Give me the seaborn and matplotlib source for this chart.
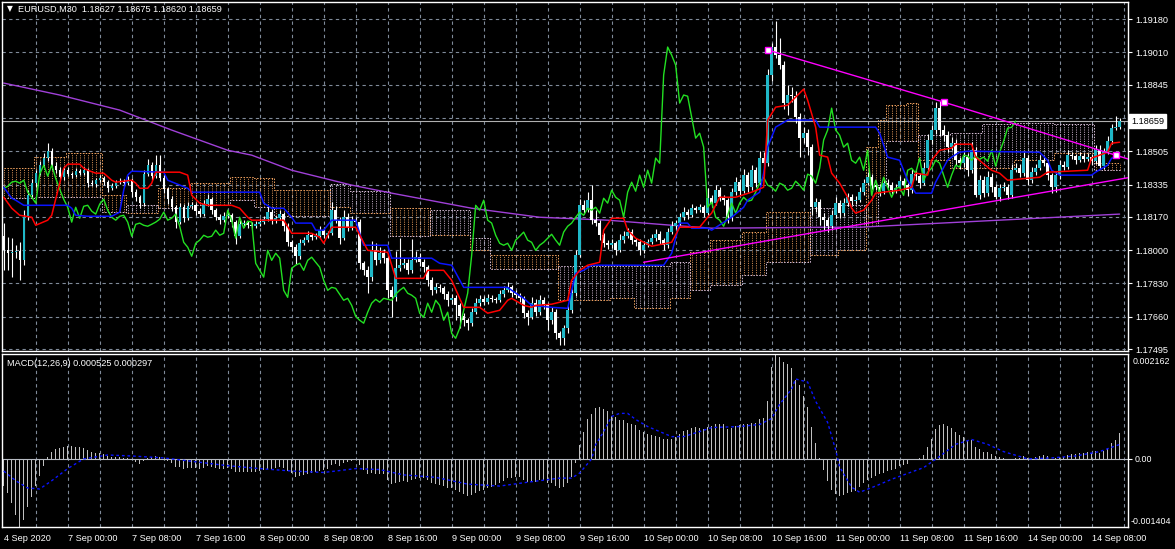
import numpy as np
import pandas as pd
import matplotlib
matplotlib.use("Agg")
import matplotlib.pyplot as plt
import matplotlib.transforms as mtransforms
import seaborn as sns

sns.set_style("dark")
plt.rcParams["font.family"] = ["Liberation Sans", "DejaVu Sans"]

# ---- EURUSD M30 candles (close, wicks in points) ----
first_open = 1.18071
closes = [
    1.17999, 1.17984, 1.17989, 1.17994, 1.17948, 1.18168, 1.18280, 1.18342, 1.18393, 1.18434,
    1.18470, 1.18505, 1.18429, 1.18408, 1.18372, 1.18408, 1.18388, 1.18383, 1.18403, 1.18393,
    1.18408, 1.18342, 1.18337, 1.18357, 1.18367, 1.18347, 1.18316, 1.18326, 1.18347, 1.18352,
    1.18342, 1.18357, 1.18296, 1.18270, 1.18240, 1.18388, 1.18434, 1.18378, 1.18434, 1.18367,
    1.18311, 1.18260, 1.18219, 1.18143, 1.18219, 1.18163, 1.18224, 1.18229, 1.18199, 1.18184,
    1.18235, 1.18260, 1.18204, 1.18168, 1.18153, 1.18173, 1.18178, 1.18143, 1.18071, 1.18132,
    1.18138, 1.18127, 1.18122, 1.18132, 1.18143, 1.18158, 1.18194, 1.18153, 1.18163, 1.18184,
    1.18122, 1.18040, 1.18015, 1.17969, 1.18035, 1.18051, 1.18076, 1.18066, 1.18071, 1.18102,
    1.18076, 1.18086, 1.18204, 1.18153, 1.18061, 1.18168, 1.18112, 1.18148, 1.18143, 1.17933,
    1.17897, 1.17862, 1.17999, 1.17948, 1.17984, 1.17959, 1.17795, 1.17759, 1.17908, 1.17923,
    1.17933, 1.17897, 1.17948, 1.17964, 1.17938, 1.17913, 1.17846, 1.17795, 1.17810, 1.17805,
    1.17775, 1.17744, 1.17754, 1.17718, 1.17662, 1.17642, 1.17627, 1.17683, 1.17729, 1.17749,
    1.17734, 1.17754, 1.17749, 1.17744, 1.17775, 1.17795, 1.17810, 1.17780, 1.17770, 1.17754,
    1.17678, 1.17657, 1.17729, 1.17683, 1.17744, 1.17718, 1.17642, 1.17683, 1.17575, 1.17550,
    1.17601, 1.17693, 1.17780, 1.17974, 1.18229, 1.18204, 1.18255, 1.18153, 1.18138, 1.18076,
    1.18035, 1.18025, 1.18035, 1.17999, 1.18051, 1.18071, 1.18092, 1.18051, 1.18040, 1.17999,
    1.18025, 1.18040, 1.18061, 1.18081, 1.18051, 1.18025, 1.18092, 1.18122, 1.18138, 1.18168,
    1.18194, 1.18178, 1.18214, 1.18204, 1.18219, 1.18189, 1.18265, 1.18240, 1.18306, 1.18270,
    1.18255, 1.18168, 1.18296, 1.18347, 1.18301, 1.18383, 1.18321, 1.18408, 1.18342, 1.18470,
    1.18444, 1.18894, 1.19037, 1.18996, 1.18945, 1.18751, 1.18792, 1.18786, 1.18679, 1.18572,
    1.18597, 1.18526, 1.18219, 1.18245, 1.18168, 1.18153, 1.18122, 1.18178, 1.18240, 1.18189,
    1.18240, 1.18270, 1.18250, 1.18255, 1.18296, 1.18342, 1.18372, 1.18332, 1.18321, 1.18301,
    1.18342, 1.18332, 1.18306, 1.18316, 1.18352, 1.18332, 1.18306, 1.18388, 1.18378, 1.18342,
    1.18418, 1.18562, 1.18613, 1.18725, 1.18613, 1.18587, 1.18526, 1.18546, 1.18459, 1.18444,
    1.18475, 1.18408, 1.18510, 1.18280, 1.18357, 1.18291, 1.18372, 1.18321, 1.18270, 1.18316,
    1.18321, 1.18280, 1.18408, 1.18418, 1.18393, 1.18470, 1.18357, 1.18398, 1.18418, 1.18459,
    1.18444, 1.18383, 1.18321, 1.18383, 1.18434, 1.18424, 1.18485, 1.18480, 1.18459, 1.18480,
    1.18464, 1.18475, 1.18454, 1.18510, 1.18429, 1.18500, 1.18556, 1.18623, 1.18627, 1.18659,
]
wick_up = [
    66, 66, 72, 30, 46, 36, 25, 20, 15, 20, 25, 41, 15, 20, 15, 20, 15, 10, 15, 10,
    15, 10, 15, 10, 15, 10, 10, 15, 10, 15, 10, 20, 10, 15, 10, 20, 30, 15, 51, 51,
    15, 10, 15, 10, 20, 15, 20, 15, 10, 15, 20, 25, 10, 10, 15, 20, 15, 10, 10, 20,
    15, 10, 15, 15, 20, 15, 30, 15, 10, 20, 10, 15, 10, 15, 20, 15, 20, 10, 15, 20,
    15, 10, 40, 20, 15, 35, 20, 25, 20, 15, 10, 20, 50, 35, 30, 20, 15, 20, 90, 138,
    25, 20, 107, 30, 20, 15, 10, 15, 20, 15, 10, 15, 20, 15, 10, 15, 10, 20, 25, 20,
    15, 20, 15, 10, 20, 20, 25, 10, 15, 10, 10, 15, 30, 20, 25, 15, 10, 25, 15, 10,
    15, 20, 20, 25, 30, 25, 40, 77, 50, 15, 10, 15, 20, 10, 30, 25, 20, 15, 10, 15,
    20, 15, 20, 25, 15, 10, 20, 25, 15, 20, 25, 15, 20, 10, 15, 10, 51, 15, 25, 15,
    10, 10, 20, 25, 15, 30, 15, 25, 15, 35, 30, 30, 20, 133, 87, 20, 51, 40, 25, 20,
    30, 20, 15, 20, 15, 20, 15, 25, 30, 15, 25, 20, 15, 20, 25, 20, 25, 15, 20, 15,
    25, 20, 15, 20, 25, 15, 10, 25, 20, 15, 30, 30, 25, 30, 35, 25, 20, 30, 20, 15,
    25, 20, 40, 15, 25, 20, 30, 20, 15, 20, 25, 15, 30, 25, 20, 30, 15, 25, 20, 25,
    20, 15, 10, 20, 25, 20, 25, 15, 10, 20, 15, 20, 15, 25, 25, 20, 25, 20, 56, 16,
]
wick_dn = [
    102, 87, 123, 30, 102, 25, 15, 15, 20, 10, 10, 15, 20, 15, 20, 15, 10, 15, 10, 10,
    10, 20, 10, 15, 10, 15, 20, 10, 10, 10, 15, 10, 25, 20, 25, 15, 10, 20, 10, 15,
    20, 25, 20, 30, 10, 20, 10, 15, 20, 15, 10, 10, 20, 15, 20, 10, 10, 25, 40, 10,
    15, 15, 10, 10, 10, 10, 10, 20, 15, 10, 25, 20, 25, 40, 15, 10, 10, 15, 10, 10,
    15, 15, 10, 15, 30, 10, 15, 10, 15, 30, 25, 80, 20, 25, 15, 25, 40, 100, 20, 15,
    15, 20, 15, 10, 20, 25, 30, 25, 15, 20, 25, 30, 20, 77, 60, 30, 36, 15, 10, 15,
    15, 10, 15, 15, 10, 15, 10, 20, 15, 20, 25, 41, 10, 20, 15, 20, 50, 20, 30, 36,
    36, 25, 15, 15, 10, 20, 10, 20, 15, 25, 20, 20, 15, 25, 10, 15, 10, 20, 20, 25,
    15, 10, 10, 15, 20, 25, 15, 10, 15, 10, 15, 20, 10, 15, 10, 20, 10, 20, 10, 20,
    25, 30, 20, 15, 20, 10, 25, 15, 20, 10, 20, 15, 30, 15, 20, 30, 60, 30, 30, 97,
    25, 40, 41, 25, 40, 51, 30, 20, 15, 25, 15, 15, 20, 15, 10, 15, 10, 20, 15, 25,
    15, 15, 20, 15, 10, 20, 30, 15, 20, 25, 10, 15, 20, 20, 30, 30, 25, 15, 25, 30,
    20, 30, 15, 10, 20, 20, 15, 25, 10, 20, 15, 20, 15, 10, 20, 15, 25, 15, 15, 10,
    15, 25, 30, 25, 20, 15, 10, 15, 20, 10, 15, 10, 20, 15, 10, 15, 10, 15, 10, 7,
]

# ---- Ichimoku lines (bar index, price) ----
tenkan_bar = [0, 2, 4, 7, 8, 11, 12, 14, 15, 16, 19, 20, 21, 23, 25, 27, 28, 32, 33, 34,
              36, 37, 38, 44, 46, 47, 49, 51, 57, 59, 61, 62, 70, 72, 77, 79, 80, 82, 88, 91,
              96, 97, 98, 105, 106, 110, 112, 115, 119, 121, 124, 126, 127, 130, 132, 133, 137, 141, 142, 144,
              146, 149, 150, 152, 155, 156, 158, 162, 167, 169, 174, 176, 177, 179, 183, 187, 190, 191, 193, 196,
              198, 200, 201, 203, 204, 206, 207, 209, 211, 212, 213, 215, 217, 218, 220, 224, 227, 228, 231, 232,
              234, 237, 238, 242, 243, 246, 247, 249, 251, 256, 259, 261, 271, 272, 276, 277, 279]
tenkan_val = [1.18270, 1.18214, 1.18178, 1.18168, 1.18127, 1.18153, 1.18178, 1.18342, 1.18418, 1.18439,
              1.18439, 1.18418, 1.18408, 1.18393, 1.18393, 1.18357, 1.18347, 1.18357, 1.18342, 1.18316,
              1.18316, 1.18342, 1.18398, 1.18398, 1.18383, 1.18280, 1.18240, 1.18229, 1.18229, 1.18214,
              1.18168, 1.18153, 1.18153, 1.18086, 1.18086, 1.18066, 1.18035, 1.18117, 1.18117, 1.17999,
              1.17989, 1.17923, 1.17856, 1.17856, 1.17897, 1.17897, 1.17846, 1.17708, 1.17708, 1.17678,
              1.17693, 1.17744, 1.17754, 1.17718, 1.17708, 1.17718, 1.17724, 1.17744, 1.17846, 1.17897,
              1.17923, 1.17938, 1.18102, 1.18163, 1.18163, 1.18102, 1.18061, 1.18020, 1.18040, 1.18117,
              1.18117, 1.18168, 1.18189, 1.18270, 1.18270, 1.18296, 1.18321, 1.18664, 1.18730, 1.18740,
              1.18781, 1.18822, 1.18766, 1.18628, 1.18485, 1.18475, 1.18393, 1.18342, 1.18270, 1.18214,
              1.18189, 1.18204, 1.18255, 1.18291, 1.18296, 1.18306, 1.18321, 1.18393, 1.18383, 1.18459,
              1.18510, 1.18521, 1.18541, 1.18541, 1.18475, 1.18424, 1.18408, 1.18393, 1.18357, 1.18367,
              1.18372, 1.18398, 1.18408, 1.18470, 1.18500, 1.18546, 1.18551]

kijun_bar = [0, 2, 3, 5, 16, 17, 18, 21, 27, 29, 30, 31, 32, 40, 41, 46, 47, 64, 65, 67,
             70, 72, 73, 77, 78, 80, 82, 88, 89, 90, 96, 97, 107, 109, 112, 115, 126, 127, 130, 132,
             137, 141, 143, 145, 147, 165, 167, 169, 171, 172, 176, 177, 182, 185, 186, 189, 190, 191, 193, 196,
             203, 204, 218, 219, 221, 224, 226, 228, 232, 233, 236, 237, 239, 241, 259, 261, 262, 264, 272, 273,
             276, 277, 279]
kijun_val = [1.18321, 1.18265, 1.18255, 1.18229, 1.18229, 1.18214, 1.18178, 1.18173, 1.18173, 1.18194,
             1.18306, 1.18383, 1.18403, 1.18398, 1.18357, 1.18316, 1.18296, 1.18296, 1.18240, 1.18214,
             1.18214, 1.18168, 1.18138, 1.18138, 1.18102, 1.18102, 1.18153, 1.18153, 1.18086, 1.18025,
             1.18025, 1.17959, 1.17959, 1.17933, 1.17923, 1.17810, 1.17810, 1.17795, 1.17754, 1.17718,
             1.17708, 1.17703, 1.17882, 1.17897, 1.17923, 1.17923, 1.17984, 1.18138, 1.18138, 1.18112,
             1.18112, 1.18102, 1.18168, 1.18219, 1.18255, 1.18296, 1.18393, 1.18526, 1.18628, 1.18664,
             1.18664, 1.18628, 1.18628, 1.18597, 1.18475, 1.18459, 1.18357, 1.18291, 1.18291, 1.18347,
             1.18459, 1.18475, 1.18500, 1.18505, 1.18500, 1.18459, 1.18408, 1.18383, 1.18383, 1.18398,
             1.18434, 1.18470, 1.18475]

# Kumo: senkou span A / B, constant from each start bar to the next
cloud_start = [0, 8, 16, 25, 31, 39, 47, 57, 63, 68, 82, 87, 97, 107, 117, 122, 139, 152,
               158, 167, 172, 177, 185, 191, 202, 209, 216, 219, 221, 226, 229, 237, 245, 253, 263, 273]
span_a = [1.18418, 1.18475, 1.18495, 1.18280, 1.18189, 1.18316, 1.18342, 1.18372, 1.18367,
          1.18306, 1.18219, 1.18189, 1.18214, 1.18076, 1.17999, 1.17974, 1.17744, 1.17754,
          1.17703, 1.17754, 1.17989, 1.18051, 1.18092, 1.18194, 1.17974, 1.17999, 1.18526,
          1.18664, 1.18740, 1.18751, 1.18459, 1.18418, 1.18418, 1.18459, 1.18495, 1.18444]
span_b = [1.18265, 1.18270, 1.18270, 1.18194, 1.18229, 1.18214, 1.18229, 1.18255, 1.18219,
          1.18173, 1.18337, 1.18301, 1.18071, 1.18204, 1.18061, 1.17902, 1.17918, 1.17918,
          1.17918, 1.17938, 1.17795, 1.17821, 1.17872, 1.17938, 1.18214, 1.18229, 1.18122,
          1.18332, 1.18556, 1.18556, 1.18587, 1.18597, 1.18643, 1.18649, 1.18643, 1.18408]

# moving average (purple)
ma_bar = [0, 14, 29, 42, 56, 62, 72, 87, 97, 117, 134, 151, 167, 177, 207, 214, 279]
ma_val = [1.18853, 1.18792, 1.18715, 1.18613, 1.18510, 1.18485, 1.18408, 1.18332, 1.18291,
          1.18214, 1.18168, 1.18153, 1.18127, 1.18112, 1.18117, 1.18117, 1.18184]

# trend lines (magenta)
tl_top_bar = [191, 235, 278, 282]
tl_top_val = [1.19022, 1.18756, 1.18485, 1.18460]
tl_bot_bar = [160, 282]
tl_bot_val = [1.17938, 1.18373]

# ---- MACD(12,26,9), in millionths ----
macd_main = [
    -560, -700, -900, -1150, -1404, -1250, -1000, -780, -560, -350,
    -150, 40, 150, 200, 230, 250, 260, 270, 250, 240,
    230, 180, 150, 130, 120, 100, 60, 40, 30, 30,
    20, 20, -20, -60, -110, -50, 20, 30, 60, 40,
    0, -40, -90, -160, -170, -200, -190, -180, -190, -200,
    -180, -150, -160, -180, -200, -200, -190, -210, -260, -260,
    -260, -260, -270, -260, -250, -230, -200, -200, -190, -170,
    -190, -250, -300, -370, -360, -340, -310, -290, -270, -240,
    -230, -210, -130, -110, -140, -80, -70, -40, -20, -120,
    -220, -320, -300, -320, -310, -320, -430, -520, -500, -480,
    -460, -470, -440, -410, -400, -400, -440, -500, -520, -530,
    -560, -600, -610, -640, -690, -730, -760, -740, -700, -660,
    -640, -600, -570, -540, -500, -450, -400, -390, -380, -380,
    -430, -470, -450, -470, -440, -440, -490, -490, -560, -610,
    -580, -500, -370, -80, 290, 560, 820, 920, 1040, 1060,
    1020, 990, 880, 860, 810, 800, 750, 710, 690, 590,
    560, 510, 490, 480, 450, 420, 420, 420, 450, 520,
    570, 600, 640, 650, 640, 620, 660, 680, 710, 720,
    710, 610, 640, 670, 690, 720, 720, 730, 750, 820,
    850, 1200, 1900, 2162, 2100, 2000, 1950, 1880, 1630, 1530,
    1290, 1060, 650, 330, 20, -220, -450, -640, -730, -760,
    -750, -700, -680, -660, -570, -500, -440, -400, -350, -320,
    -290, -250, -230, -200, -150, -120, -100, -30, 0, 20,
    80, 250, 400, 620, 700, 710, 680, 640, 560, 500,
    460, 380, 380, 250, 200, 150, 150, 110, 50, 30,
    10, -30, 0, 20, 20, 60, 20, 20, 30, 60,
    70, 50, 0, 10, 30, 40, 80, 100, 100, 120,
    130, 140, 130, 170, 130, 170, 230, 330, 380, 525,
]
sig_bar = [0, 3, 6, 9, 12, 16, 20, 26, 32, 40, 48, 56, 64, 72, 80, 88, 94, 100, 108, 116,
           124, 132, 139, 142, 144, 147, 148, 150, 152, 154, 156, 158, 161, 164, 167, 170, 174, 177, 184, 189,
           192, 194, 197, 198, 201, 203, 206, 208, 209, 212, 214, 218, 222, 226, 230, 234, 238, 242, 246, 250,
           256, 262, 268, 274, 279]
sig_val = [-250, -450, -600, -620, -450, -200, 0, 80, 60, 20, -60, -140, -200, -250, -280, -200, -220, -330, -380, -520,
           -560, -470, -396, -396, -292, 0, 292, 563, 876, 938, 938, 813, 667, 563, 459, 459, 563, 646, 667, 709,
           834, 1126, 1439, 1647, 1584, 1188, 751, 188, -167, -584, -688, -560, -420, -300, -180, 50, 300, 400, 300, 150,
           0, 20, 60, 150, 297]

price_levels = [1.19180, 1.19010, 1.18845, 1.18675, 1.18505, 1.18335, 1.18170, 1.18000, 1.17830, 1.17660, 1.17495]
price_labels = ["1.19180", "1.19010", "1.18845", "", "1.18505", "1.18335", "1.18170", "1.18000", "1.17830", "1.17660", "1.17495"]
date_labels = ["4 Sep 2020", "7 Sep 00:00", "7 Sep 08:00", "7 Sep 16:00", "8 Sep 00:00", "8 Sep 08:00",
               "8 Sep 16:00", "9 Sep 00:00", "9 Sep 08:00", "9 Sep 16:00", "10 Sep 00:00", "10 Sep 08:00",
               "10 Sep 16:00", "11 Sep 00:00", "11 Sep 08:00", "11 Sep 16:00", "14 Sep 00:00", "14 Sep 08:00"]
macd_max, macd_min = 0.002162, -0.001404
bid = 1.18659

CYAN = "#1fb8c8"
SANDY = "#f4a460"
THISTLE = "#d8bfd8"
GRID = "#7f8a99"
FS = 6.6

df = pd.DataFrame({"close": closes, "up": wick_up, "dn": wick_dn})
df["bar"] = np.arange(len(df))
df["open"] = np.r_[first_open, df["close"].to_numpy()[:-1]]
df["top"] = df[["open", "close"]].max(axis=1)
df["bot"] = df[["open", "close"]].min(axis=1)
df["high"] = df["top"] + df["up"] / 1e5
df["low"] = df["bot"] - df["dn"] / 1e5
bars = df["bar"].to_numpy()

fig = plt.figure(figsize=(11.75, 5.49), dpi=100, facecolor="black")
W, H = 1175, 549
ax = fig.add_axes([2 / W, 1 - 351 / H, 1126 / W, 349 / H])
axm = fig.add_axes([2 / W, 1 - 527 / H, 1126 / W, 173 / H], sharex=ax)

for a in (ax, axm):
    a.set_facecolor("black")
    for s in a.spines.values():
        s.set_color("white")
        s.set_linewidth(1)
    for b in range(8, 282, 8):
        a.axvline(b, color=GRID, lw=0.8, ls=(0, (3, 3)), zorder=0)

ax.set_xlim(-0.43, 281.1)
ax.set_ylim(1.17485, 1.19267)
for lv in price_levels:
    ax.axhline(lv, color=GRID, lw=0.8, ls=(0, (3, 3)), zorder=0)

# cloud: dotted vertical hatch per bar
seg = np.searchsorted(cloud_start, bars, side="right") - 1
sa = np.array(span_a)[seg]
sb = np.array(span_b)[seg]
ax.vlines(bars, np.minimum(sa, sb), np.maximum(sa, sb),
          colors=np.where(sa >= sb, SANDY, THISTLE), linestyles=(0, (1.5, 1.5)), lw=0.55, zorder=1)
ax.plot(bars, sa, color=SANDY, lw=0.7, ls=(0, (1.5, 1.5)), drawstyle="steps-mid", zorder=1)
ax.plot(bars, sb, color=THISTLE, lw=0.7, ls=(0, (1.5, 1.5)), drawstyle="steps-mid", zorder=1)

# moving average + bid line
sns.lineplot(x=ma_bar, y=ma_val, ax=ax, color="#a040d8", lw=1.0, estimator=None, sort=False, zorder=2)
ax.axhline(bid, color="#b0b0b0", lw=0.8, zorder=2)

# candles
ax.vlines(bars, df["low"], df["high"], color="white", lw=0.8, zorder=3)
bull = df["close"] >= df["open"]
ax.bar(bars, np.maximum(df["top"] - df["bot"], 0.00003), bottom=df["bot"], width=0.6,
       color=np.where(bull, CYAN, "white"), linewidth=0, zorder=3)

# ichimoku lines
sns.lineplot(x=bars[:len(bars) - 26], y=df["close"].to_numpy()[26:], ax=ax, color="#22e022",
             lw=1.0, estimator=None, sort=False, zorder=4)
sns.lineplot(x=kijun_bar, y=kijun_val, ax=ax, color="#0a14ff", lw=1.1, estimator=None, sort=False, zorder=4)
sns.lineplot(x=tenkan_bar, y=tenkan_val, ax=ax, color="#ff0000", lw=1.1, estimator=None, sort=False, zorder=4)

# trend lines
ax.plot(tl_top_bar, tl_top_val, color="#ff00ff", lw=1.0, zorder=5)
ax.plot(tl_bot_bar, tl_bot_val, color="#ff00ff", lw=1.0, zorder=5)
ax.plot(tl_top_bar[:3], tl_top_val[:3], "s", ms=4, mfc="white", mec="#ff00ff", mew=1.0, zorder=6)

ax.yaxis.tick_right()
ax.set_yticks(price_levels)
ax.set_yticklabels(price_labels)
ax.tick_params(axis="y", colors="white", length=3, width=0.8, pad=2, labelsize=FS)
ax.tick_params(axis="x", bottom=False, labelbottom=False)
ax.set_xlabel("")
ax.set_ylabel("")

tr = mtransforms.blended_transform_factory(ax.transAxes, ax.transData)
ax.text(1.0 + 3 / 1126, bid, "1.18659", transform=tr, ha="left", va="center", color="black",
        fontsize=FS, bbox=dict(facecolor="white", edgecolor="white", pad=1.6), clip_on=False, zorder=10)

# MACD panel
axm.bar(bars, np.array(macd_main) / 1e6, width=0.28, color="#c0c0c0", linewidth=0, zorder=2)
axm.axhline(0, color="#b8bcc4", lw=0.8, zorder=2)
sns.lineplot(x=sig_bar, y=np.array(sig_val) / 1e6, ax=axm, color="#0a14ff", lw=1.0,
             linestyle=(0, (2, 2)), estimator=None, sort=False, zorder=3)
axm.set_ylim(macd_min, macd_max)
axm.yaxis.tick_right()
axm.set_yticks([0.0])
axm.set_yticklabels(["0.00"])
axm.tick_params(axis="y", colors="white", length=3, width=0.8, pad=2, labelsize=6.4)
# MetaTrader prints the window max/min just inside the panel edges
trm = mtransforms.blended_transform_factory(axm.transAxes, axm.transData)
axm.text(1.0 + 5 / 1126, macd_max, f"{macd_max:.6f}", transform=trm, ha="left", va="top",
         color="white", fontsize=6.4, clip_on=False,
         transform_rotates_text=False).set_y(macd_max - 0.00007)
axm.text(1.0 + 3 / 1126, macd_min, f"{macd_min:.6f}", transform=trm, ha="left", va="bottom",
         color="white", fontsize=6.4, clip_on=False).set_y(macd_min + 0.00003)
axm.set_xticks(list(range(0, 273, 16)))
axm.set_xticklabels(date_labels)
axm.tick_params(axis="x", colors="white", length=3, width=0.8, pad=2, labelsize=FS)
for t in axm.get_xticklabels():
    t.set_ha("left")
axm.set_xlabel("")
axm.set_ylabel("")

fig.text(7 / W, 1 - 9 / H, "▼", color="white", fontsize=5.5, ha="left", va="center",
         family=["DejaVu Sans"])
fig.text(18 / W, 1 - 9 / H, "EURUSD,M30  1.18627 1.18675 1.18620 1.18659", color="white",
         fontsize=FS, ha="left", va="center")
fig.text(7 / W, 1 - 364 / H, "MACD(12,26,9) 0.000525 0.000297", color="white",
         fontsize=FS, ha="left", va="center")

fig.savefig("out.png", dpi=100, facecolor="black")
